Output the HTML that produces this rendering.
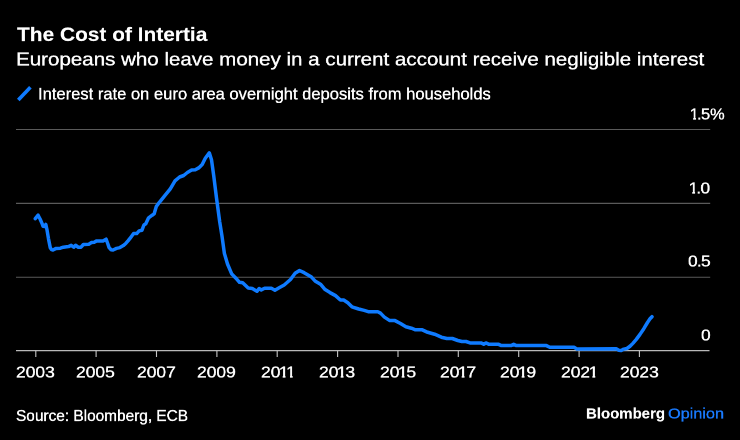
<!DOCTYPE html>
<html>
<head>
<meta charset="utf-8">
<title>The Cost of Intertia</title>
<style>
html,body{margin:0;padding:0;background:#000;}
body{width:740px;height:440px;position:relative;overflow:hidden;font-family:"Liberation Sans",sans-serif;color:#fff;}
.t{position:absolute;white-space:nowrap;line-height:1;transform-origin:0 0;will-change:transform;-webkit-text-stroke:0.7px currentColor;}
svg{position:absolute;left:0;top:0;}
.o{display:inline-block;margin:0 -.07em 0 -.08em;clip-path:polygon(0 0,100% 0,100% .66em,.375em .66em,.375em 100%,.215em 100%,.215em .66em,0 .66em);}
.p{display:inline-block;margin:0 -.04em;}
#title{left:17.03px;top:24.60px;font-size:38.40px;font-weight:bold;-webkit-text-stroke-width:0.3px;transform:scale(0.5441,0.5000);}
#sub{left:16.42px;top:50.24px;font-size:37.00px;font-weight:normal;-webkit-text-stroke-width:0.7px;transform:scale(0.5549,0.5000);}
#leg{left:37.73px;top:85.59px;font-size:32.40px;font-weight:normal;-webkit-text-stroke-width:0.7px;transform:scale(0.5111,0.5000);}
#y15{left:691.16px;top:106.86px;font-size:30.80px;font-weight:normal;-webkit-text-stroke-width:0.7px;transform:scale(0.5330,0.5000);}
#y10{left:690.05px;top:180.56px;font-size:30.80px;font-weight:normal;-webkit-text-stroke-width:0.7px;transform:scale(0.5600,0.5000);}
#y05{left:687.67px;top:254.26px;font-size:30.80px;font-weight:normal;-webkit-text-stroke-width:0.7px;transform:scale(0.5600,0.5000);}
#y00{left:700.76px;top:327.56px;font-size:30.80px;font-weight:normal;-webkit-text-stroke-width:0.7px;transform:scale(0.5600,0.5000);}
#src{left:15.80px;top:408.39px;font-size:31.20px;font-weight:normal;-webkit-text-stroke-width:0.7px;transform:scale(0.4939,0.5000);}
#brandB{left:585.70px;top:405.62px;font-size:30.20px;font-weight:bold;-webkit-text-stroke-width:0.3px;transform:scale(0.4956,0.5000);}
#brandO{left:668.30px;top:405.62px;font-size:30.20px;font-weight:normal;color:#1a7bff;-webkit-text-stroke-width:0.7px;transform:scale(0.5383,0.5000);}
#x2003{left:16.11px;top:365.06px;font-size:30.80px;font-weight:normal;-webkit-text-stroke-width:0.7px;transform:scale(0.5650,0.5000);}
#x2005{left:76.48px;top:365.06px;font-size:30.80px;font-weight:normal;-webkit-text-stroke-width:0.7px;transform:scale(0.5650,0.5000);}
#x2007{left:136.88px;top:365.06px;font-size:30.80px;font-weight:normal;-webkit-text-stroke-width:0.7px;transform:scale(0.5650,0.5000);}
#x2009{left:197.24px;top:365.06px;font-size:30.80px;font-weight:normal;-webkit-text-stroke-width:0.7px;transform:scale(0.5650,0.5000);}
#x2011{left:260.96px;top:365.06px;font-size:30.80px;font-weight:normal;-webkit-text-stroke-width:0.7px;transform:scale(0.5650,0.5000);}
#x2013{left:319.21px;top:365.06px;font-size:30.80px;font-weight:normal;-webkit-text-stroke-width:0.7px;transform:scale(0.5650,0.5000);}
#x2015{left:379.58px;top:365.06px;font-size:30.80px;font-weight:normal;-webkit-text-stroke-width:0.7px;transform:scale(0.5650,0.5000);}
#x2017{left:439.96px;top:365.06px;font-size:30.80px;font-weight:normal;-webkit-text-stroke-width:0.7px;transform:scale(0.5650,0.5000);}
#x2019{left:500.32px;top:365.06px;font-size:30.80px;font-weight:normal;-webkit-text-stroke-width:0.7px;transform:scale(0.5650,0.5000);}
#x2021{left:561.31px;top:365.06px;font-size:30.80px;font-weight:normal;-webkit-text-stroke-width:0.7px;transform:scale(0.5650,0.5000);}
#x2023{left:619.81px;top:365.06px;font-size:30.80px;font-weight:normal;-webkit-text-stroke-width:0.7px;transform:scale(0.5650,0.5000);}
</style>
</head>
<body>
<svg width="740" height="440" viewBox="0 0 740 440">
  <g stroke="#5a5a5a" stroke-width="1.1">
    <line x1="16" y1="129.55" x2="710.2" y2="129.55"/>
    <line x1="16" y1="203.4" x2="710.2" y2="203.4"/>
    <line x1="16" y1="277.25" x2="710.2" y2="277.25"/>
  </g>
  <g stroke="#b9b9b9" stroke-width="1.15">
    <line x1="16" y1="350.6" x2="709.5" y2="350.6"/>
  </g>
  <g stroke="#c6c6c6" stroke-width="1.1">
    <line x1="35.8" y1="350.5" x2="35.8" y2="357"/>
    <line x1="96.1" y1="350.5" x2="96.1" y2="357"/>
    <line x1="156.5" y1="350.5" x2="156.5" y2="357"/>
    <line x1="216.9" y1="350.5" x2="216.9" y2="357"/>
    <line x1="277.2" y1="350.5" x2="277.2" y2="357"/>
    <line x1="337.6" y1="350.5" x2="337.6" y2="357"/>
    <line x1="398.0" y1="350.5" x2="398.0" y2="357"/>
    <line x1="458.3" y1="350.5" x2="458.3" y2="357"/>
    <line x1="518.7" y1="350.5" x2="518.7" y2="357"/>
    <line x1="579.1" y1="350.5" x2="579.1" y2="357"/>
    <line x1="639.4" y1="350.5" x2="639.4" y2="357"/>
  </g>
  <line x1="18.3" y1="99.9" x2="30.4" y2="87.3" stroke="#0f7bff" stroke-width="3.6"/>
  <polyline fill="none" stroke="#0f7bff" stroke-width="3.5" stroke-linejoin="round" stroke-linecap="round" points="35.3,218.6 38.1,215.2 40.2,219.2 42.2,223.9 43.1,226.3 44.5,226.4 45.8,224.4 46.9,229.3 48.5,238.8 50.3,247.8 51.5,249.6 53,250 55.7,248.6 60.4,248.2 63.4,247.2 68.5,246.6 71.2,245.3 73.7,247.2 75.6,245.3 78.3,247.2 81,247.2 83.4,244.5 88.8,244.2 91.5,242.6 94.2,242.2 96.2,241.1 103,241.1 106.1,239.2 107.7,243.5 109.1,247.6 111.1,249.7 113.1,250 116.5,248.4 119.9,247.6 123.3,245.6 126,243.2 128,240.9 130,238.4 133.6,233.4 136.7,233.6 139.1,230.9 142,230.2 143.9,225 145.8,223.8 148.6,217.8 152.2,215.2 154.1,213.9 156.3,206.6 159.4,202.3 164.6,195.9 170.3,188.8 175,180.9 179.6,177 183.7,175.5 187.4,172.5 191.6,170 195.3,169.8 198.7,167.9 202.2,164.6 205.3,158.3 209.3,152.9 211.5,159.7 213.7,175.5 216.4,197.3 219.7,221.8 221.9,235.5 224.4,253.4 227.5,264 231.8,274.1 235.9,278.2 239.5,282.3 242.7,282.8 248.2,288 252.3,288.5 256.9,291.3 259.1,288.5 261.3,289.9 264.6,288.3 271.4,288.3 274.9,290.2 279.6,287.5 284.2,285 290.5,279.5 295.1,273.3 299.5,270.5 304.1,272.7 311.5,277.1 315,280.9 320.5,284.2 325.1,289.6 330,292.6 335.5,295.6 340.4,300 343.7,300 347.8,302.7 351.9,306.8 358.7,309 364.2,310.4 368.2,311.7 377.8,311.7 380.5,313.1 384.4,317.1 389.8,320.6 395,320.6 400.5,323.5 405.9,326.8 411.4,328.2 415.5,329.8 422.3,329.8 427.7,332.3 434.6,334.2 441.4,337.2 446.8,338.5 452.3,338.5 457.8,340.5 461.9,341.5 466,341.5 470,342.9 481,342.9 483.7,344.3 485.9,342.9 489.1,344.3 498.7,344.3 501.4,345.6 511,345.6 513.7,344.3 516.4,345.6 546.4,345.6 549.7,347.3 574.1,347.3 576.8,348.9 616.3,348.8 618.8,350.2 621.2,350.6 623.8,349.1 626.9,348.5 630,346.3 633.1,343.1 636.3,339.4 640,334.4 643.8,328.7 647.5,322.5 650,318.8 652,316.7"/>
</svg>
<div class="t" id="title">The Cost of Intertia</div>
<div class="t" id="sub">Europeans who leave money in a current account receive negligible interest</div>
<div class="t" id="leg">Interest rate on euro area overnight deposits from households</div>
<div class="t" id="y15"><span class="o">1</span><span class="p">.</span>5%</div>
<div class="t" id="y10"><span class="o">1</span><span class="p">.</span>0</div>
<div class="t" id="y05">0<span class="p">.</span>5</div>
<div class="t" id="y00">0</div>
<div class="t" id="src">Source: Bloomberg, ECB</div>
<div class="t" id="brandB">Bloomberg</div>
<div class="t" id="brandO">Opinion</div>
<div class="t" id="x2003">2003</div>
<div class="t" id="x2005">2005</div>
<div class="t" id="x2007">2007</div>
<div class="t" id="x2009">2009</div>
<div class="t" id="x2011">20<span class="o">1</span><span class="o">1</span></div>
<div class="t" id="x2013">20<span class="o">1</span>3</div>
<div class="t" id="x2015">20<span class="o">1</span>5</div>
<div class="t" id="x2017">20<span class="o">1</span>7</div>
<div class="t" id="x2019">20<span class="o">1</span>9</div>
<div class="t" id="x2021">202<span class="o">1</span></div>
<div class="t" id="x2023">2023</div>
</body>
</html>
